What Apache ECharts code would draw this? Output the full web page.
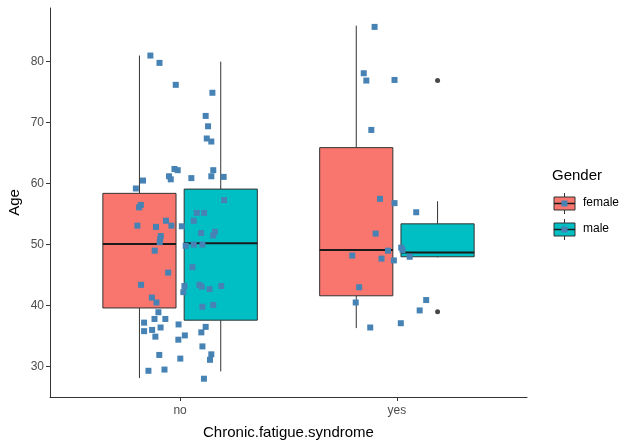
<!DOCTYPE html>
<html>
<head>
<meta charset="utf-8">
<script src="https://cdn.jsdelivr.net/npm/echarts@6/dist/echarts.min.js"></script>
<style>
html,body{margin:0;padding:0;background:#fff;}
#chart{width:627px;height:444px;}
</style>
</head>
<body>
<div id="chart"></div>
<script>
const categories = ['no', 'yes'];
const genders = ['female', 'male'];
const yTicks = [30, 40, 50, 60, 70, 80];
// box stats: [lower whisker, q1, median, q3, upper whisker]
const femaleNoBox = [28.1, 39.6, 50.1, 58.4, 81.0];
const maleNoBox = [29.2, 37.6, 50.2, 59.1, 80.0];
const femaleYesBox = [36.3, 41.6, 49.1, 65.9, 85.9];
const maleYesBox = [47.9, 48.0, 48.7, 53.4, 57.1];
const maleYesOutliers = [76.9, 39.0];

// jittered points (horizontal jitter in category units, age)
const noJitter = [-0.137,-0.095,-0.020,0.149,0.118,0.129,0.123,0.144,-0.026,-0.011,
  -0.051,-0.043,0.153,0.052,0.144,0.201,-0.171,-0.204,0.203,-0.189,
  -0.181,0.077,0.111,-0.065,0.063,-0.197,-0.111,-0.040,0.008,0.161,
  0.153,0.097,-0.089,-0.092,-0.094,0.026,0.063,0.103,-0.117,0.057,
  -0.055,-0.180,-0.130,-0.109,0.020,0.015,0.089,0.100,0.136,0.190,
  0.103,0.153,-0.100,-0.166,-0.118,-0.068,-0.007,0.118,-0.166,-0.129,
  -0.090,-0.114,0.022,-0.008,0.098,0.103,-0.096,0.001,0.144,0.138,
  -0.146,-0.072,0.110];
const noAge = [81.0,79.8,76.2,74.9,71.1,69.4,67.4,66.9,62.4,62.2,
  61.2,60.7,62.2,60.9,61.2,61.1,60.5,59.2,57.3,56.1,
  56.5,55.2,55.2,53.9,53.9,53.1,52.9,53.1,53.0,52.1,
  51.5,51.9,51.4,50.9,50.4,49.8,50.0,50.0,49.0,46.3,
  45.4,43.4,41.3,40.5,43.2,42.2,43.4,43.1,42.7,43.2,
  39.8,40.1,38.9,37.2,37.8,37.8,36.9,36.5,35.8,36.0,
  36.4,34.9,35.1,34.4,35.6,33.3,31.9,31.3,32.0,31.1,
  29.3,29.5,28.0];
const yesJitter = [-0.103,-0.153,-0.141,-0.011,-0.118,-0.078,-0.011,0.089,-0.098,-0.041,
  0.020,0.026,-0.206,-0.071,-0.014,0.059,-0.174,-0.190,0.135,0.105,
  -0.123,0.018];
const yesAge = [85.7,78.1,76.9,77.0,68.8,57.5,56.8,55.3,51.8,49.0,
  49.5,49.1,48.2,47.7,47.4,48.0,43.0,40.5,40.9,39.2,
  36.4,37.1];

const fillColors = {female: '#F8766D', male: '#00BFC4'};
const dodge = 0.1875;
const boxWidth = 0.3375;

function boxSeries(gender, boxes) {
  const sign = gender === 'female' ? -1 : 1;
  return {
    type: 'custom',
    name: gender,
    z: 2,
    data: boxes.map((b, i) => [i + 1 + sign * dodge].concat(b)),
    encode: {x: 0, y: [1, 2, 3, 4, 5]},
    renderItem: function (params, api) {
      const x = api.value(0);
      const lo = api.value(1), q1 = api.value(2), med = api.value(3), q3 = api.value(4), hi = api.value(5);
      const half = boxWidth / 2;
      const tl = api.coord([x - half, q3]);
      const br = api.coord([x + half, q1]);
      const cHi = api.coord([x, hi]);
      const cLo = api.coord([x, lo]);
      const mL = api.coord([x - half, med]);
      const mR = api.coord([x + half, med]);
      const lineStyle = {stroke: '#333333', lineWidth: 1};
      return {
        type: 'group',
        children: [
          {type: 'line', shape: {x1: cHi[0], y1: cHi[1], x2: cHi[0], y2: tl[1]}, style: lineStyle},
          {type: 'line', shape: {x1: cLo[0], y1: br[1], x2: cLo[0], y2: cLo[1]}, style: lineStyle},
          {type: 'rect', shape: {x: tl[0], y: tl[1], width: br[0] - tl[0], height: br[1] - tl[1]},
            style: {fill: fillColors[gender], stroke: '#333333', lineWidth: 1}},
          {type: 'line', shape: {x1: mL[0], y1: mL[1], x2: mR[0], y2: mR[1]},
            style: {stroke: '#1a1a1a', lineWidth: 2}}
        ]
      };
    }
  };
}

const noPoints = noAge.map((a, i) => [1 + noJitter[i], a]);
const yesPoints = yesAge.map((a, i) => [2 + yesJitter[i], a]);
const outlierPoints = maleYesOutliers.map(a => [2 + dodge, a]);

function legendKey(y, color) {
  const x = 554, w = 21, h = 13;
  return {
    type: 'group',
    children: [
      {type: 'line', shape: {x1: x + w / 2, y1: y - 4, x2: x + w / 2, y2: y}, style: {stroke: '#333', lineWidth: 1}},
      {type: 'line', shape: {x1: x + w / 2, y1: y + h, x2: x + w / 2, y2: y + h + 4}, style: {stroke: '#333', lineWidth: 1}},
      {type: 'rect', shape: {x: x, y: y, width: w, height: h}, style: {fill: color, stroke: '#333', lineWidth: 1}},
      {type: 'line', shape: {x1: x, y1: y + h / 2, x2: x + w, y2: y + h / 2}, style: {stroke: '#1a1a1a', lineWidth: 1.5}},
      {type: 'rect', shape: {x: x + w / 2 - 3, y: y + h / 2 - 3, width: 6, height: 6}, style: {fill: '#4682B4'}}
    ]
  };
}

const chart = echarts.init(document.getElementById('chart'), null, {renderer: 'canvas'});
chart.setOption({
  animation: false,
  backgroundColor: '#ffffff',
  grid: {left: 50, right: 100, top: 8, bottom: 47, containLabel: false, outerBoundsMode: 'none'},
  xAxis: {
    type: 'value',
    min: 0.4,
    max: 2.6,
    name: 'Chronic.fatigue.syndrome',
    nameLocation: 'middle',
    nameGap: 28,
    nameTextStyle: {color: '#000', fontSize: 15, fontFamily: 'Liberation Sans'},
    axisLine: {show: true, lineStyle: {color: '#333', width: 1}},
    axisTick: {show: true, length: 4, customValues: [1, 2], lineStyle: {color: '#333'}},
    axisLabel: {
      customValues: [1, 2],
      margin: 8,
      color: '#4D4D4D',
      fontSize: 12,
      fontFamily: 'Liberation Sans',
      formatter: v => categories[Math.round(v) - 1]
    },
    splitLine: {show: false}
  },
  yAxis: {
    type: 'value',
    min: 25,
    max: 88.8,
    name: 'Age',
    nameLocation: 'middle',
    nameRotate: 90,
    nameGap: 28,
    nameMoveOverlap: false,
    nameTextStyle: {color: '#000', fontSize: 15, fontFamily: 'Liberation Sans'},
    axisLine: {show: true, lineStyle: {color: '#333', width: 1}},
    axisTick: {show: true, length: 4, customValues: yTicks, lineStyle: {color: '#333'}},
    axisLabel: {
      customValues: yTicks,
      margin: 6,
      color: '#4D4D4D',
      fontSize: 12,
      fontFamily: 'Liberation Sans'
    },
    splitLine: {show: false}
  },
  series: [
    boxSeries('female', [femaleNoBox, femaleYesBox]),
    boxSeries('male', [maleNoBox, maleYesBox]),
    {
      type: 'scatter',
      z: 3,
      symbol: 'circle',
      symbolSize: 5,
      itemStyle: {color: '#1a1a1a'},
      data: outlierPoints
    },
    {
      type: 'scatter',
      z: 4,
      symbol: 'rect',
      symbolSize: 6,
      itemStyle: {color: '#4682B4', opacity: 1},
      data: noPoints.concat(yesPoints)
    }
  ],
  graphic: [
    {type: 'text', left: 552, top: 168, style: {text: 'Gender', fill: '#000', font: '15px "Liberation Sans"'}},
    legendKey(197, fillColors.female),
    legendKey(223, fillColors.male),
    {type: 'text', left: 583, top: 197, style: {text: genders[0], fill: '#000', font: '12px "Liberation Sans"'}},
    {type: 'text', left: 583, top: 223, style: {text: genders[1], fill: '#000', font: '12px "Liberation Sans"'}}
  ]
});
</script>
</body>
</html>
